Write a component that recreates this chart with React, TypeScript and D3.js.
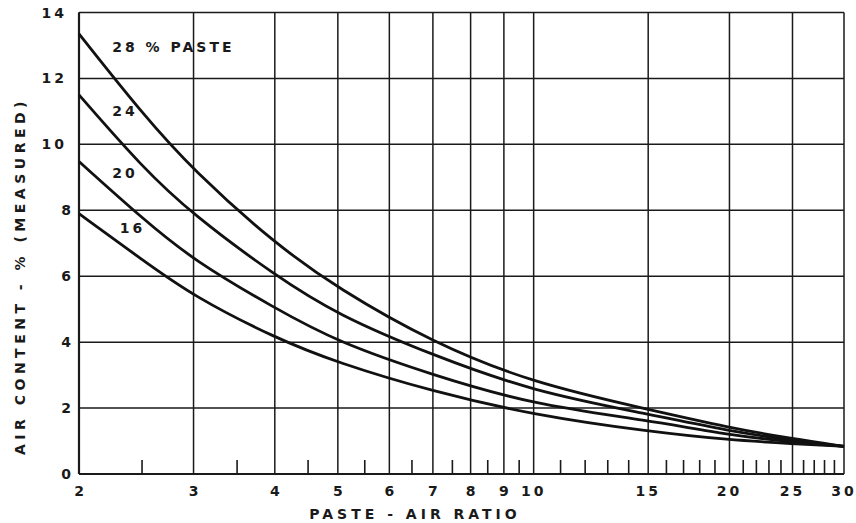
import { useMemo } from 'react';
import { scaleLog, scaleLinear, line, curveBasis } from 'd3';

const width = 856;
const height = 523;

// paste-air ratio samples
const ratios = [2, 2.5, 3, 4, 5, 7, 10, 15, 20, 25, 30];
const paste28 = [13.35, 10.94, 9.2, 6.99, 5.63, 3.98, 2.75, 1.96, 1.4, 1.07, 0.84];
const paste24 = [11.5, 9.31, 7.85, 6.03, 4.82, 3.6, 2.5, 1.82, 1.3, 1.02, 0.84];
const paste20 = [9.48, 7.76, 6.48, 5.03, 4.0, 3.0, 2.1, 1.63, 1.18, 0.97, 0.84];
const paste16 = [7.9, 6.5, 5.39, 4.13, 3.37, 2.5, 1.79, 1.29, 1.03, 0.92, 0.84];

const xMajor = [2, 3, 4, 5, 6, 7, 8, 9, 10, 15, 20, 25, 30];
const xMinor = [2.5, 3.5, 4.5, 5.5, 6.5, 7.5, 8.5, 9.5, 11, 12, 13, 14, 16, 17, 18, 19, 21, 22, 23, 24, 26, 27, 28, 29];
const yTicks = [0, 2, 4, 6, 8, 10, 12, 14];

const curveLabels = [
  { text: '28 % PASTE', x: 2.25, y: 12.95 },
  { text: '24', x: 2.25, y: 11.0 },
  { text: '20', x: 2.25, y: 9.12 },
  { text: '16', x: 2.31, y: 7.45 },
];

const x = scaleLog().domain([2, 30]).range([79, 844]);
const y = scaleLinear().domain([0, 14]).range([474, 12.5]);

const font = "'DejaVu Sans', sans-serif";
const ink = '#1a1a1a';

const App = () => {
  const series = useMemo(() => [paste28, paste24, paste20, paste16], []);
  const path = line<number>()
    .x((_, i) => x(ratios[i]))
    .y(d => y(d))
    .curve(curveBasis);

  return (
    <svg width={width} height={height} style={{ position: 'absolute', left: 0, top: 0, background: '#fff' }}>
      {/* grid */}
      {xMajor.map(v => (
        <line key={'gx' + v} x1={x(v)} x2={x(v)} y1={y(0)} y2={y(14)} stroke={ink} strokeWidth={1.5} />
      ))}
      {yTicks.map(v => (
        <line key={'gy' + v} x1={x(2)} x2={x(30)} y1={y(v)} y2={y(v)} stroke={ink} strokeWidth={1.5} />
      ))}
      <line x1={x(2)} x2={x(2)} y1={y(0)} y2={y(14)} stroke={ink} strokeWidth={2.2} />
      <line x1={x(2)} x2={x(30)} y1={y(0)} y2={y(0)} stroke={ink} strokeWidth={2.2} />

      {xMinor.map(v => (
        <line key={'mx' + v} x1={x(v)} x2={x(v)} y1={y(0)} y2={y(0) - 14} stroke={ink} strokeWidth={1.6} />
      ))}

      {series.map((s, i) => (
        <path key={i} d={path(s) || ''} fill="none" stroke="#111" strokeWidth={2.8} />
      ))}

      {curveLabels.map(l => (
        <text key={l.text} x={x(l.x)} y={y(l.y)} fontFamily={font} fontWeight="bold" fontSize={14}
          letterSpacing={3} dominantBaseline="central" fill={ink}>{l.text}</text>
      ))}

      {yTicks.map(v => (
        <text key={'ty' + v} x={v >= 10 ? 67 : 71} y={y(v)} textAnchor="end" dominantBaseline="central"
          fontFamily={font} fontWeight="bold" fontSize={14} letterSpacing={v >= 10 ? 3 : 0} fill={ink}>{v}</text>
      ))}
      {xMajor.map(v => (
        <text key={'tx' + v} x={x(v)} y={496} textAnchor="middle" fontFamily={font} fontWeight="bold"
          fontSize={14} letterSpacing={v >= 10 ? 3 : 0} fill={ink}>{v}</text>
      ))}

      <text x={415} y={519} textAnchor="middle" fontFamily={font} fontWeight="bold" fontSize={14}
        letterSpacing={4} fill={ink}>PASTE - AIR RATIO</text>
      <text transform="translate(20,276) rotate(-90)" textAnchor="middle" dominantBaseline="central"
        fontFamily={font} fontWeight="bold" fontSize={14} letterSpacing={4.5} fill={ink}>AIR CONTENT - % (MEASURED)</text>
    </svg>
  );
};

export default App;
